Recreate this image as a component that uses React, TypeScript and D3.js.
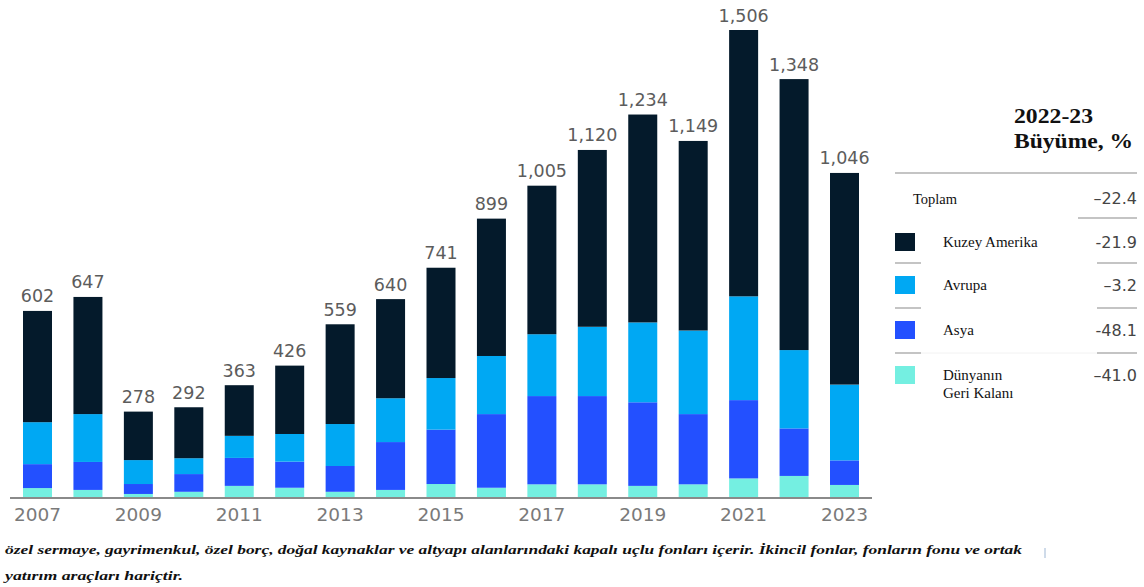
import React from "react";
import * as d3 from "d3";

const years = ["2007","2008","2009","2010","2011","2012","2013","2014","2015","2016","2017","2018","2019","2020","2021","2022","2023"];
const tickYears = ["2007","2009","2011","2013","2015","2017","2019","2021","2023"];
const northAmerica = [358, 377, 156, 164, 163, 220, 321, 319, 355, 442, 478, 569, 669, 610, 857, 872, 681];
const europe = [135, 154, 77, 51, 71, 89, 135, 141, 166, 187, 199, 223, 257, 269, 334, 252, 244];
const asia = [77, 90, 32, 57, 90, 84, 83, 154, 175, 237, 284, 284, 269, 226, 252, 153, 79];
const restOfWorld = [32, 26, 13, 20, 39, 33, 20, 26, 45, 33, 44, 44, 39, 44, 63, 71, 42];
const totals = [602, 647, 278, 292, 363, 426, 559, 640, 741, 899, 1005, 1120, 1234, 1149, 1506, 1348, 1046];

const seriesKeys = ["rest", "asia", "europe", "na"];
const seriesColors: Record<string, string> = {
  na: "#041a2b",
  europe: "#00a8f3",
  asia: "#2350ff",
  rest: "#74efe1",
};

const legendLabels = ["Kuzey Amerika", "Avrupa", "Asya", "Dünyanın|Geri Kalanı"];
const legendKeys = ["na", "europe", "asia", "rest"];
const legendValues = ["-21.9", "\u20133.2", "-48.1", "\u201341.0"];
const totalLabel = "Toplam";
const totalValue = "\u201322.4";
const titleLines = ["2022-23", "Büyüme, %"];
const footnote = [
  "özel sermaye, gayrimenkul, özel borç, doğal kaynaklar ve altyapı alanlarındaki kapalı uçlu fonları içerir. İkincil fonlar, fonların fonu ve ortak",
  "yatırım araçları hariçtir.",
];

const fmt = d3.format(",");

export default function App() {
  const W = 1144, H = 587;
  const baseY = 498;
  const x = d3.scaleBand<string>().domain(years).range([23, 859]).paddingInner(0.425).paddingOuter(0);
  const y = d3.scaleLinear().domain([0, 1506]).range([baseY, 30]);

  const rows = years.map((yr, i) => ({
    year: yr,
    na: northAmerica[i],
    europe: europe[i],
    asia: asia[i],
    rest: restOfWorld[i],
  }));
  const stack = d3.stack<any>().keys(seriesKeys)(rows);

  const sans = "'DejaVu Sans', sans-serif";
  const serif = "'Liberation Serif', 'Times New Roman', serif";

  const legendRowY = [242, 285, 330, 375];
  const sepY = [263, 308, 353];

  return (
    <svg width={W} height={H} style={{ position: "absolute", left: 0, top: 0, background: "#fff" }}>
      {stack.map((layer) => (
        <g key={layer.key} fill={seriesColors[layer.key]}>
          {layer.map((d, i) => (
            <rect
              key={i}
              x={x(years[i])}
              width={x.bandwidth()}
              y={y(d[1])}
              height={y(d[0]) - y(d[1])}
            />
          ))}
        </g>
      ))}
      <line x1={10} x2={872} y1={baseY} y2={baseY} stroke="#8a8a8a" strokeWidth={2} />
      {years.map((yr, i) => (
        <text
          key={yr}
          x={(x(yr) as number) + x.bandwidth() / 2}
          y={y(totals[i]) - 8.5}
          textAnchor="middle"
          fontFamily={sans}
          fontSize={17.5}
          fill="#5c5c5c"
        >
          {fmt(totals[i])}
        </text>
      ))}
      {tickYears.map((yr) => (
        <text
          key={yr}
          x={(x(yr) as number) + x.bandwidth() / 2}
          y={521}
          textAnchor="middle"
          fontFamily={sans}
          fontSize={18.5}
          fill="#7a7a7a"
        >
          {yr}
        </text>
      ))}

      {/* Legend table */}
      <text x={1014} y={123} fontFamily={serif} fontWeight="bold" fontSize={22} fill="#111" textLength={79} lengthAdjust="spacingAndGlyphs">{titleLines[0]}</text>
      <text x={1014} y={148} fontFamily={serif} fontWeight="bold" fontSize={22} fill="#111" textLength={119} lengthAdjust="spacingAndGlyphs">{titleLines[1]}</text>
      <line x1={895} x2={1137} y1={173} y2={173} stroke="#c4c4c4" strokeWidth={2} />
      <text x={913} y={204} fontFamily={serif} fontSize={14.5} fill="#111">{totalLabel}</text>
      <text x={1137} y={204} textAnchor="end" fontFamily={sans} fontSize={16} fill="#444">{totalValue}</text>
      <line x1={1078} x2={1137} y1={218} y2={218} stroke="#c4c4c4" strokeWidth={2} />
      {legendKeys.map((k, i) => {
        const cy = legendRowY[i];
        const lines = legendLabels[i].split("|");
        return (
          <g key={k}>
            <rect x={895} y={cy - 9} width={20} height={18} fill={seriesColors[k]} />
            {lines.map((ln, j) => (
              <text key={j} x={943} y={cy + 5 + j * 18} fontFamily={serif} fontSize={15} fill="#111">{ln}</text>
            ))}
            <text x={1137} y={cy + 6} textAnchor="end" fontFamily={sans} fontSize={16} fill="#444">{legendValues[i]}</text>
          </g>
        );
      })}
      {sepY.map((sy) => (
        <g key={sy}>
          <line x1={895} x2={921} y1={sy} y2={sy} stroke="#c4c4c4" strokeWidth={2} />
          <line x1={1097} x2={1137} y1={sy} y2={sy} stroke="#c4c4c4" strokeWidth={2} />
        </g>
      ))}
      <line x1={921} x2={1097} y1={353} y2={353} stroke="#f2f2f2" strokeWidth={1} />

      {/* Footnote */}
      <text x={5} y={554} fontFamily={serif} fontStyle="italic" fontWeight="bold" fontSize={13} fill="#111" textLength={1017} lengthAdjust="spacingAndGlyphs">{footnote[0]}</text>
      <text x={5} y={580} fontFamily={serif} fontStyle="italic" fontWeight="bold" fontSize={13} fill="#111" textLength={178} lengthAdjust="spacingAndGlyphs">{footnote[1]}</text>
      <line x1={1045} x2={1045} y1={548} y2={558} stroke="#9fb7d4" strokeWidth={1} />
    </svg>
  );
}
